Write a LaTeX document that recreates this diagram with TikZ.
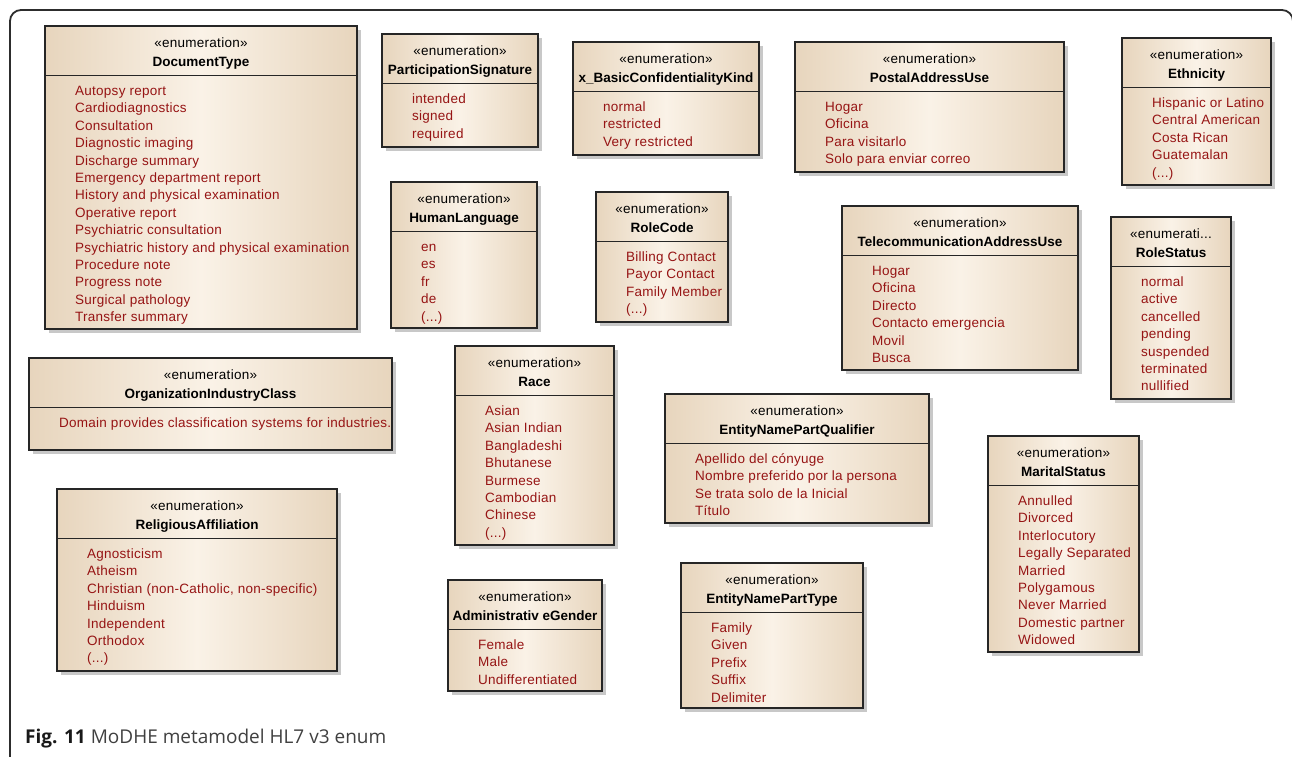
\documentclass[tikz,border=0pt]{standalone}
\usepackage{fontspec}
\setmainfont{Liberation Sans}
\newfontfamily\literalfont[LetterSpace=1.9]{Liberation Sans}
\newfontfamily\captionfont{Open Sans}
\usepackage{xcolor}
\usepackage{tikz}

\definecolor{enumedge}{RGB}{231,213,189}
\definecolor{enumlight}{RGB}{250,242,231}
\definecolor{enumshadow}{RGB}{200,200,200}
\definecolor{literalred}{RGB}{150,20,20}
\definecolor{framegray}{RGB}{45,45,45}

% "more literals" marker
\newcommand{\moreliterals}{(...)}

% enumeration box: id, left, top, right, bottom, stereotype, name, literals
\newcommand{\enumbox}[8]{
    % Shadow, body and header line
    \fill[enumshadow] (#2+4,#3+4) rectangle (#4+4,#5+4);
    \shade[left color=enumedge, right color=enumedge, middle color=enumlight] (#2,#3) rectangle (#4,#5);
    \draw[boxline] (#2,#3) rectangle (#4,#5);
    \draw[boxline] (#2,#3+49.5) -- (#4,#3+49.5);
    % Stereotype and name in the header
    \node[stereotype] (#1-st) at ({(#2+#4)/2},#3+21.5) {#6};
    \node[enumname] (#1-name) at ({(#2+#4)/2},#3+40) {#7};
    % One literal per line
    \foreach \lit [count=\i] in {#8} {
        \node[literal] (#1-\i) at (#2+30,#3+69.5+17.4*\i-17.4) {\lit};
    }
}

\begin{document}
\begin{tikzpicture}[x=1pt, y=-1pt,
    boxline/.style={draw=black!85, line width=1.1pt},
    stereotype/.style={anchor=base, inner sep=0pt, font=\literalfont\fontsize{13.5}{16}\selectfont},
    enumname/.style={anchor=base, inner sep=0pt, font=\bfseries\fontsize{13.5}{16}\selectfont},
    literal/.style={anchor=base west, inner sep=0pt, text=literalred, font=\literalfont\fontsize{13.5}{16}\selectfont}]

    \useasboundingbox (0,0) rectangle (1292,756);

    % Frame round the figure
    \draw[framegray, line width=1.8pt, rounded corners=11pt] (10,770) -- (10,10) -- (1293,10) -- (1293,770);

    % Top row
    \enumbox{doctype}{45}{26}{357}{329}{«enumeration»}{DocumentType}{Autopsy report, Cardiodiagnostics, Consultation, Diagnostic imaging, Discharge summary, Emergency department report, History and physical examination, Operative report, Psychiatric consultation, Psychiatric history and physical examination, Procedure note, Progress note, Surgical pathology, Transfer summary}
    \enumbox{partsig}{382}{34}{538}{147}{«enumeration»}{ParticipationSignature}{intended, signed, required}
    \enumbox{confkind}{573}{42}{759}{155}{«enumeration»}{x\_BasicConfidentialityKind}{normal, restricted, Very restricted}
    \enumbox{postal}{795}{42}{1064}{172}{«enumeration»}{PostalAddressUse}{Hogar, Oficina, Para visitarlo, Solo para enviar correo}
    \enumbox{ethnic}{1122}{38}{1271}{185}{«enumeration»}{Ethnicity}{Hispanic or Latino, Central American, Costa Rican, Guatemalan, \moreliterals}

    % Second row
    \enumbox{humanlang}{391}{182}{537}{328}{«enumeration»}{HumanLanguage}{en, es, fr, de, \moreliterals}
    \enumbox{rolecode}{596}{192}{728}{322}{«enumeration»}{RoleCode}{Billing Contact, Payor Contact, Family Member, \moreliterals}
    \enumbox{telecom}{842}{206}{1078}{370}{«enumeration»}{TelecommunicationAddressUse}{Hogar, Oficina, Directo, Contacto emergencia, Movil, Busca}
    \enumbox{rolestatus}{1111}{217}{1231}{399}{«enumerati...}{RoleStatus}{normal, active, cancelled, pending, suspended, terminated, nullified}

    % Middle
    \enumbox{orgind}{29}{358}{392}{450}{«enumeration»}{OrganizationIndustryClass}{Domain provides classification systems for industries.}
    \enumbox{race}{455}{346}{614}{545}{«enumeration»}{Race}{Asian, Asian Indian, Bangladeshi, Bhutanese, Burmese, Cambodian, Chinese, \moreliterals}
    \enumbox{qualifier}{665}{394}{929}{523}{«enumeration»}{EntityNamePartQualifier}{Apellido del cónyuge, Nombre preferido por la persona, Se trata solo de la Inicial, Título}
    \enumbox{marital}{988}{436}{1139}{652}{«enumeration»}{MaritalStatus}{Annulled, Divorced, Interlocutory, Legally Separated, Married, Polygamous, Never Married, Domestic partner, Widowed}

    % Bottom row
    \enumbox{religion}{57}{489}{337}{671}{«enumeration»}{ReligiousAffiliation}{Agnosticism, Atheism, {Christian (non-Catholic, non-specific)}, Hinduism, Independent, Orthodox, \moreliterals}
    \enumbox{gender}{448}{580}{602}{691}{«enumeration»}{Administrativ eGender}{Female, Male, Undifferentiated}
    \enumbox{parttype}{681}{563}{863}{708}{«enumeration»}{EntityNamePartType}{Family, Given, Prefix, Suffix, Delimiter}

    % Caption
    \node[anchor=base west, inner sep=0pt, text=black!75, font=\captionfont\fontsize{19}{22}\selectfont] (caption) at (25,743) {\textbf{\color{black!90}Fig. 11} MoDHE metamodel HL7 v3 enum};

\end{tikzpicture}
\end{document}
